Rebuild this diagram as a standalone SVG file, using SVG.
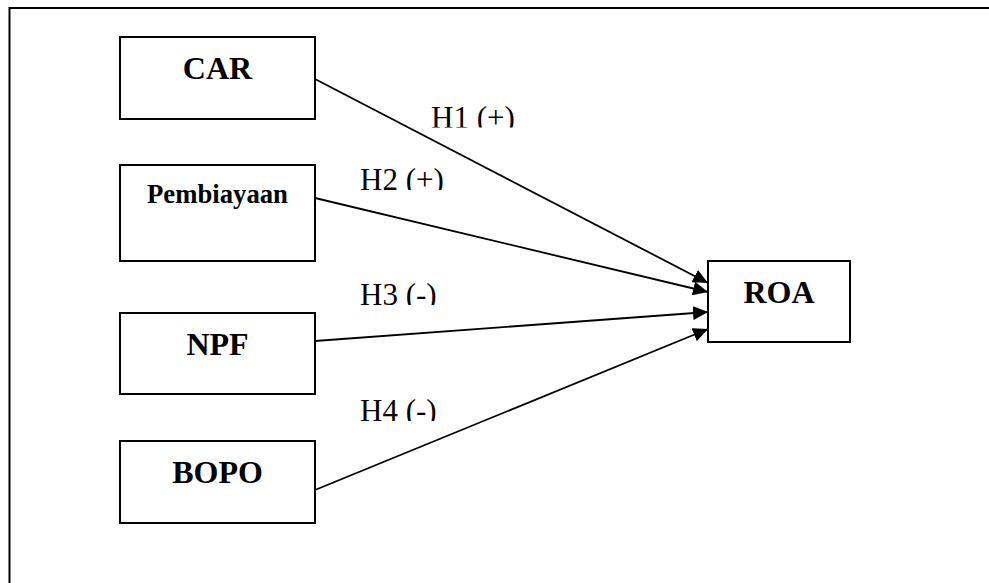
<svg xmlns="http://www.w3.org/2000/svg" width="989" height="583" viewBox="0 0 989 583">
<style>
.box{fill:#fff;stroke:#000;stroke-width:2}
.nt{font-family:"Liberation Serif","Times New Roman",serif;font-weight:bold;font-size:32px;text-anchor:middle;fill:#000}
.lbl{font-family:"Liberation Serif","Times New Roman",serif;font-size:31px;fill:#000}
.edge{stroke:#000;stroke-width:1.8;fill:none;marker-end:url(#ah)}
</style>
<defs>
<marker id="ah" markerUnits="userSpaceOnUse" markerWidth="16" markerHeight="14" refX="15" refY="7" orient="auto">
<path d="M0,0 L15,7 L0,14 Z" fill="#000"/>
</marker>
<clipPath id="c1"><rect x="420" y="90" width="120" height="37.5"/></clipPath>
<clipPath id="c2"><rect x="350" y="150" width="120" height="40"/></clipPath>
<clipPath id="c3"><rect x="350" y="265" width="120" height="40"/></clipPath>
<clipPath id="c4"><rect x="350" y="380" width="120" height="41"/></clipPath>
</defs>
<rect width="989" height="583" fill="#fff"/>
<g id="frame">
<path d="M9.5,583 L9.5,8 L989,8" fill="none" stroke="#000" stroke-width="2"/>
</g>
<g id="connectors">
<line class="edge" x1="315" y1="79" x2="708" y2="283"/>
<line class="edge" x1="315" y1="198" x2="708" y2="292"/>
<line class="edge" x1="315" y1="341" x2="708" y2="312"/>
<line class="edge" x1="315" y1="490" x2="708" y2="329"/>
<g clip-path="url(#c1)"><text class="lbl" x="431" y="127.5">H1 (+)</text></g>
<g clip-path="url(#c2)"><text class="lbl" x="360" y="190">H2 (+)</text></g>
<g clip-path="url(#c3)"><text class="lbl" x="360" y="305">H3 (-)</text></g>
<g id="l4" clip-path="url(#c4)"><text class="lbl" x="360" y="421">H4 (-)</text></g>
</g>
<g id="car">
<rect class="box" x="120" y="37" width="195" height="82"/>
<text class="nt" x="217.5" y="79">CAR</text>
</g>
<g id="pembiayaan">
<rect class="box" x="120" y="165" width="195" height="96"/>
<text class="nt" x="217.5" y="203" style="font-size:26.7px">Pembiayaan</text>
</g>
<g id="npf">
<rect class="box" x="120" y="313" width="195" height="81"/>
<text class="nt" x="217.5" y="355">NPF</text>
</g>
<g id="bopo">
<rect class="box" x="120" y="441" width="195" height="82"/>
<text class="nt" x="217.5" y="483">BOPO</text>
</g>
<g id="roa">
<rect class="box" x="708" y="261" width="142" height="81"/>
<text class="nt" x="779" y="303">ROA</text>
</g>
</svg>
